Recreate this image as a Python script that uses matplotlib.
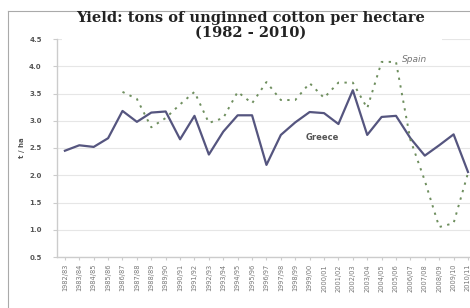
import numpy as np
import matplotlib
matplotlib.use('Agg')
import matplotlib.pyplot as plt
from matplotlib.patches import Rectangle
from matplotlib.lines import Line2D

seasons = ['1982/83', '1983/84', '1984/85', '1985/86', '1986/87', '1987/88', '1988/89',
           '1989/90', '1990/91', '1991/92', '1992/93', '1993/94', '1994/95', '1995/96',
           '1996/97', '1997/98', '1998/99', '1999/00', '2000/01', '2001/02', '2002/03',
           '2003/04', '2004/05', '2005/06', '2006/07', '2007/08', '2008/09', '2009/10',
           '2010/11']

greece = [2.45, 2.55, 2.52, 2.68, 3.18, 2.98, 3.15, 3.17, 2.66, 3.09, 2.38, 2.80,
          3.10, 3.10, 2.19, 2.74, 2.97, 3.16, 3.14, 2.94, 3.56, 2.74, 3.07, 3.09,
          2.68, 2.36, 2.55, 2.75, 2.06]

# Spain starts in 1986/87
spain_start = 4
spain = [3.53, 3.40, 2.88, 3.05, 3.30, 3.53, 2.96, 3.05, 3.53, 3.32, 3.71, 3.38,
         3.38, 3.69, 3.42, 3.70, 3.70, 3.23, 4.08, 4.08, 2.65, 1.90, 1.05, 1.12,
         2.04]

W, H = 470, 308
fig = plt.figure(figsize=(W / 100, H / 100), dpi=100)
ax = fig.add_axes([57 / W, 1 - 257 / H, 1 - 57 / W, (257 - 39) / H])

x = np.arange(len(seasons))
xs = np.arange(spain_start, spain_start + len(spain))

ax.plot(x, greece, color='#55557f', lw=1.6, zorder=3)
ax.plot(xs, spain, color='#6f8f5f', lw=1.4, ls=(0, (1.2, 2.8)), zorder=3)

ax.set_ylim(0.5, 4.5)
ax.set_xlim(-0.55, 28.14)
ax.set_yticks(np.arange(0.5, 4.51, 0.5))
ax.set_yticklabels(['%.1f' % v for v in np.arange(0.5, 4.51, 0.5)],
                   fontsize=5, fontweight='bold', color='#555555')
ax.set_xticks(x)
ax.set_xticklabels(seasons, rotation=90, fontsize=4.8, color='#777777')
ax.grid(axis='y', color='#e6e6e6', lw=0.8)
ax.set_axisbelow(True)
for s in ['top', 'right']:
    ax.spines[s].set_visible(False)
for s in ['left', 'bottom']:
    ax.spines[s].set_color('#cccccc')
    ax.spines[s].set_linewidth(1.0)
ax.tick_params(axis='y', length=3, color='#cccccc', pad=8)
ax.tick_params(axis='x', length=2, color='#cccccc', pad=3)
ax.set_ylabel('t / ha', fontsize=5, fontweight='bold', color='#555555', labelpad=3)

ax.text(23.4, 4.12, 'Spain', fontsize=6.5, style='italic', color='#777777', va='center')
ax.text(16.75, 2.70, 'Greece', fontsize=6, fontweight='bold', color='#555555', va='center')

# frame lines and white title box
fig.add_artist(Line2D([8 / W, 8 / W], [0, 1 - 11 / H], color='#aaaaaa', lw=0.8))
fig.add_artist(Line2D([8 / W, 1], [1 - 11 / H, 1 - 11 / H], color='#aaaaaa', lw=0.8))
fig.patches.append(Rectangle((62 / W, 1 - 45 / H), (442 - 62) / W, 32 / H,
                             transform=fig.transFigure, facecolor='white',
                             edgecolor='none', zorder=5))
fig.text(251 / W, 1 - 25 / H, 'Yield: tons of unginned cotton per hectare\n(1982 - 2010)',
         ha='center', va='center', fontsize=10.5, fontweight='bold',
         family='DejaVu Serif', color='#222222', linespacing=1.05, zorder=6)

fig.savefig('out.png', dpi=100)
